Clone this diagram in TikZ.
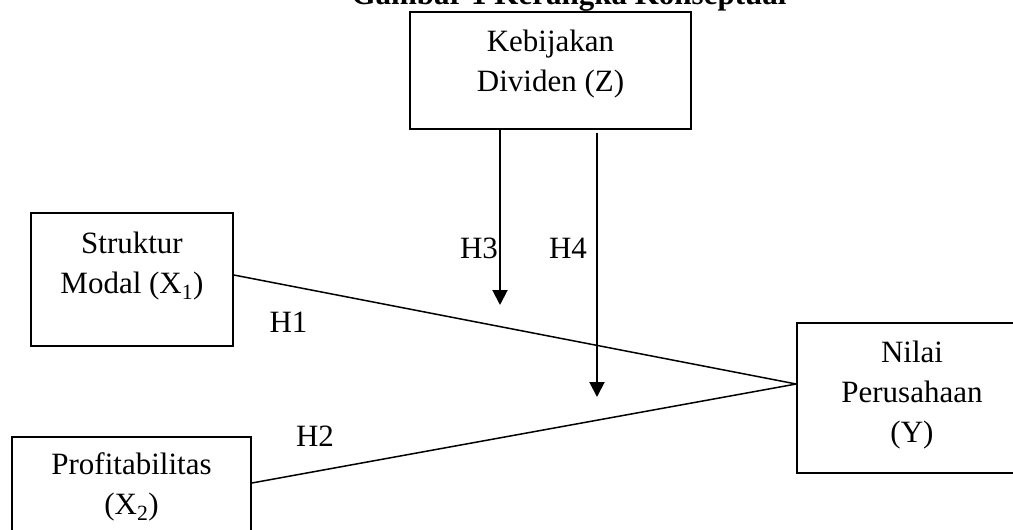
\documentclass[tikz,border=0pt]{standalone}
\usepackage{fontspec}
\setmainfont{Liberation Serif}
\usetikzlibrary{positioning,arrows.meta}
\tikzset{
varbox/.style={draw=black,line width=1.6pt,inner sep=0pt},
vartext/.style={align=center,inner sep=0pt,font=\fontsize{31}{40}\selectfont},
hyp/.style={inner sep=0pt,anchor=base,font=\fontsize{31}{40}\selectfont},
link/.style={draw=black,line width=1.5pt},
modarrow/.style={-{Triangle[length=15pt,width=15pt]},line width=2pt}
}
\begin{document}
\begin{tikzpicture}[x=1pt,y=-1pt]
\useasboundingbox (0,0) rectangle (1013,530);
\node[hyp,font=\fontsize{31}{40}\selectfont\bfseries] (title) at (569,5) {Gambar 1 Kerangka Konseptual};
\node[varbox,minimum width=281pt,minimum height=117pt] (z) at (550.5,70.5) {};
\node[varbox,minimum width=202pt,minimum height=133pt] (x1) at (132,279.5) {};
\node[varbox,minimum width=239pt,minimum height=133pt] (x2) at (131.5,503.5) {};
\node[varbox,minimum width=230pt,minimum height=150pt] (y) at (912,398) {};
\node[vartext,below=19pt of z.north] (zt) {Kebijakan\\Dividen (Z)};
\node[vartext,below=20pt of x1.north] (x1t) {Struktur\\Modal (X\textsubscript{1})};
\node[vartext,below=16pt of x2.north] (x2t) {Profitabilitas\\(X\textsubscript{2})};
\node[vartext,below=19pt of y.north] (yt) {Nilai\\Perusahaan\\(Y)};
\coordinate (join) at ([yshift=14pt]y.west);
\coordinate (h3tip) at (500,305);
\coordinate (h4tip) at (597,397);
\draw[link] ([yshift=4.5pt]x1.east) -- (join);
\draw[link] ([yshift=20.5pt]x2.east) -- (join);
\draw[modarrow] ([xshift=-50.5pt]z.south) -- (h3tip);
\draw[modarrow] ([xshift=46.5pt,yshift=-3pt]z.south) -- (h4tip);
\node[hyp] (h1) at (288.5,332) {H1};
\node[hyp] (h2) at (315,446) {H2};
\node[hyp] (h3) at (479,258) {H3};
\node[hyp] (h4) at (568,258) {H4};
\end{tikzpicture}
\end{document}
